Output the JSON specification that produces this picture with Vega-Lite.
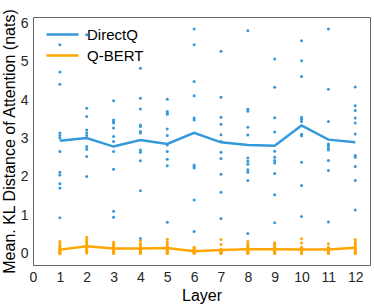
{
  "$schema": "https://vega.github.io/schema/vega-lite/v6.json",
  "width": 337,
  "height": 248,
  "autosize": {"type": "none"},
  "padding": {"left": 33, "top": 17, "right": 4, "bottom": 39},
  "background": "white",
  "config": {
    "font": "Liberation Sans",
    "view": {"stroke": "#666", "strokeWidth": 1},
    "axis": {"domain": false, "ticks": false, "grid": false, "labelFont": "Liberation Sans", "labelFontSize": 14, "labelColor": "#262626", "titleFont": "Liberation Sans", "titleFontSize": 16, "titleFontWeight": "normal", "titleColor": "#000"}
  },
  "datasets": {
    "points": [
      {"layer": 1, "model": "DirectQ", "kl": 5.44}, {"layer": 1, "model": "DirectQ", "kl": 4.73}, {"layer": 1, "model": "DirectQ", "kl": 4.41}, {"layer": 1, "model": "DirectQ", "kl": 3.14}, {"layer": 1, "model": "DirectQ", "kl": 3.08}, {"layer": 1, "model": "DirectQ", "kl": 3.01}, {"layer": 1, "model": "DirectQ", "kl": 2.66}, {"layer": 1, "model": "DirectQ", "kl": 2.12}, {"layer": 1, "model": "DirectQ", "kl": 2.05}, {"layer": 1, "model": "DirectQ", "kl": 1.82}, {"layer": 1, "model": "DirectQ", "kl": 1.71}, {"layer": 1, "model": "DirectQ", "kl": 0.94},
      {"layer": 2, "model": "DirectQ", "kl": 5.70}, {"layer": 2, "model": "DirectQ", "kl": 3.79}, {"layer": 2, "model": "DirectQ", "kl": 3.57}, {"layer": 2, "model": "DirectQ", "kl": 3.22}, {"layer": 2, "model": "DirectQ", "kl": 3.14}, {"layer": 2, "model": "DirectQ", "kl": 3.08}, {"layer": 2, "model": "DirectQ", "kl": 2.79}, {"layer": 2, "model": "DirectQ", "kl": 2.72}, {"layer": 2, "model": "DirectQ", "kl": 2.53}, {"layer": 2, "model": "DirectQ", "kl": 2.01},
      {"layer": 3, "model": "DirectQ", "kl": 3.98}, {"layer": 3, "model": "DirectQ", "kl": 3.48}, {"layer": 3, "model": "DirectQ", "kl": 3.44}, {"layer": 3, "model": "DirectQ", "kl": 3.40}, {"layer": 3, "model": "DirectQ", "kl": 3.27}, {"layer": 3, "model": "DirectQ", "kl": 3.05}, {"layer": 3, "model": "DirectQ", "kl": 2.92}, {"layer": 3, "model": "DirectQ", "kl": 2.66}, {"layer": 3, "model": "DirectQ", "kl": 2.20}, {"layer": 3, "model": "DirectQ", "kl": 1.11}, {"layer": 3, "model": "DirectQ", "kl": 0.95},
      {"layer": 4, "model": "DirectQ", "kl": 4.83}, {"layer": 4, "model": "DirectQ", "kl": 4.05}, {"layer": 4, "model": "DirectQ", "kl": 3.77}, {"layer": 4, "model": "DirectQ", "kl": 3.35}, {"layer": 4, "model": "DirectQ", "kl": 3.31}, {"layer": 4, "model": "DirectQ", "kl": 3.18}, {"layer": 4, "model": "DirectQ", "kl": 3.14}, {"layer": 4, "model": "DirectQ", "kl": 2.70}, {"layer": 4, "model": "DirectQ", "kl": 2.64}, {"layer": 4, "model": "DirectQ", "kl": 2.42}, {"layer": 4, "model": "DirectQ", "kl": 1.64}, {"layer": 4, "model": "DirectQ", "kl": 0.40},
      {"layer": 5, "model": "DirectQ", "kl": 4.02}, {"layer": 5, "model": "DirectQ", "kl": 3.70}, {"layer": 5, "model": "DirectQ", "kl": 3.66}, {"layer": 5, "model": "DirectQ", "kl": 3.63}, {"layer": 5, "model": "DirectQ", "kl": 3.25}, {"layer": 5, "model": "DirectQ", "kl": 3.08}, {"layer": 5, "model": "DirectQ", "kl": 2.83}, {"layer": 5, "model": "DirectQ", "kl": 2.66}, {"layer": 5, "model": "DirectQ", "kl": 2.46}, {"layer": 5, "model": "DirectQ", "kl": 2.29}, {"layer": 5, "model": "DirectQ", "kl": 0.82},
      {"layer": 6, "model": "DirectQ", "kl": 5.85}, {"layer": 6, "model": "DirectQ", "kl": 5.44}, {"layer": 6, "model": "DirectQ", "kl": 4.48}, {"layer": 6, "model": "DirectQ", "kl": 4.11}, {"layer": 6, "model": "DirectQ", "kl": 3.53}, {"layer": 6, "model": "DirectQ", "kl": 3.48}, {"layer": 6, "model": "DirectQ", "kl": 2.31}, {"layer": 6, "model": "DirectQ", "kl": 2.27}, {"layer": 6, "model": "DirectQ", "kl": 2.23}, {"layer": 6, "model": "DirectQ", "kl": 1.40}, {"layer": 6, "model": "DirectQ", "kl": 0.58},
      {"layer": 7, "model": "DirectQ", "kl": 5.27}, {"layer": 7, "model": "DirectQ", "kl": 4.07}, {"layer": 7, "model": "DirectQ", "kl": 3.55}, {"layer": 7, "model": "DirectQ", "kl": 3.37}, {"layer": 7, "model": "DirectQ", "kl": 3.10}, {"layer": 7, "model": "DirectQ", "kl": 2.92}, {"layer": 7, "model": "DirectQ", "kl": 2.64}, {"layer": 7, "model": "DirectQ", "kl": 2.48}, {"layer": 7, "model": "DirectQ", "kl": 2.07}, {"layer": 7, "model": "DirectQ", "kl": 1.60}, {"layer": 7, "model": "DirectQ", "kl": 0.92},
      {"layer": 8, "model": "DirectQ", "kl": 5.80}, {"layer": 8, "model": "DirectQ", "kl": 3.76}, {"layer": 8, "model": "DirectQ", "kl": 3.71}, {"layer": 8, "model": "DirectQ", "kl": 3.29}, {"layer": 8, "model": "DirectQ", "kl": 3.09}, {"layer": 8, "model": "DirectQ", "kl": 2.49}, {"layer": 8, "model": "DirectQ", "kl": 2.41}, {"layer": 8, "model": "DirectQ", "kl": 2.33}, {"layer": 8, "model": "DirectQ", "kl": 2.19}, {"layer": 8, "model": "DirectQ", "kl": 2.12}, {"layer": 8, "model": "DirectQ", "kl": 1.91}, {"layer": 8, "model": "DirectQ", "kl": 0.53},
      {"layer": 9, "model": "DirectQ", "kl": 5.07}, {"layer": 9, "model": "DirectQ", "kl": 4.33}, {"layer": 9, "model": "DirectQ", "kl": 3.54}, {"layer": 9, "model": "DirectQ", "kl": 3.17}, {"layer": 9, "model": "DirectQ", "kl": 2.67}, {"layer": 9, "model": "DirectQ", "kl": 2.51}, {"layer": 9, "model": "DirectQ", "kl": 2.43}, {"layer": 9, "model": "DirectQ", "kl": 2.36}, {"layer": 9, "model": "DirectQ", "kl": 2.09}, {"layer": 9, "model": "DirectQ", "kl": 1.54}, {"layer": 9, "model": "DirectQ", "kl": 0.81},
      {"layer": 10, "model": "DirectQ", "kl": 5.54}, {"layer": 10, "model": "DirectQ", "kl": 5.02}, {"layer": 10, "model": "DirectQ", "kl": 4.61}, {"layer": 10, "model": "DirectQ", "kl": 3.55}, {"layer": 10, "model": "DirectQ", "kl": 3.50}, {"layer": 10, "model": "DirectQ", "kl": 3.44}, {"layer": 10, "model": "DirectQ", "kl": 3.11}, {"layer": 10, "model": "DirectQ", "kl": 3.07}, {"layer": 10, "model": "DirectQ", "kl": 2.38}, {"layer": 10, "model": "DirectQ", "kl": 1.78}, {"layer": 10, "model": "DirectQ", "kl": 0.97},
      {"layer": 11, "model": "DirectQ", "kl": 5.85}, {"layer": 11, "model": "DirectQ", "kl": 4.28}, {"layer": 11, "model": "DirectQ", "kl": 3.44}, {"layer": 11, "model": "DirectQ", "kl": 2.86}, {"layer": 11, "model": "DirectQ", "kl": 2.81}, {"layer": 11, "model": "DirectQ", "kl": 2.75}, {"layer": 11, "model": "DirectQ", "kl": 2.70}, {"layer": 11, "model": "DirectQ", "kl": 2.43}, {"layer": 11, "model": "DirectQ", "kl": 2.17}, {"layer": 11, "model": "DirectQ", "kl": 0.83},
      {"layer": 12, "model": "DirectQ", "kl": 4.34}, {"layer": 12, "model": "DirectQ", "kl": 3.85}, {"layer": 12, "model": "DirectQ", "kl": 3.73}, {"layer": 12, "model": "DirectQ", "kl": 3.53}, {"layer": 12, "model": "DirectQ", "kl": 3.40}, {"layer": 12, "model": "DirectQ", "kl": 3.12}, {"layer": 12, "model": "DirectQ", "kl": 2.56}, {"layer": 12, "model": "DirectQ", "kl": 2.51}, {"layer": 12, "model": "DirectQ", "kl": 2.27}, {"layer": 12, "model": "DirectQ", "kl": 1.91}, {"layer": 12, "model": "DirectQ", "kl": 1.14},
      {"layer": 1, "model": "Q-BERT", "kl": 0.32}, {"layer": 1, "model": "Q-BERT", "kl": 0.27}, {"layer": 1, "model": "Q-BERT", "kl": 0.22}, {"layer": 1, "model": "Q-BERT", "kl": 0.18}, {"layer": 1, "model": "Q-BERT", "kl": 0.15}, {"layer": 1, "model": "Q-BERT", "kl": 0.12}, {"layer": 1, "model": "Q-BERT", "kl": 0.09}, {"layer": 1, "model": "Q-BERT", "kl": 0.07}, {"layer": 1, "model": "Q-BERT", "kl": 0.05}, {"layer": 1, "model": "Q-BERT", "kl": 0.03}, {"layer": 1, "model": "Q-BERT", "kl": 0.02}, {"layer": 1, "model": "Q-BERT", "kl": 0.0},
      {"layer": 2, "model": "Q-BERT", "kl": 0.43}, {"layer": 2, "model": "Q-BERT", "kl": 0.37}, {"layer": 2, "model": "Q-BERT", "kl": 0.32}, {"layer": 2, "model": "Q-BERT", "kl": 0.28}, {"layer": 2, "model": "Q-BERT", "kl": 0.24}, {"layer": 2, "model": "Q-BERT", "kl": 0.20}, {"layer": 2, "model": "Q-BERT", "kl": 0.17}, {"layer": 2, "model": "Q-BERT", "kl": 0.13}, {"layer": 2, "model": "Q-BERT", "kl": 0.10}, {"layer": 2, "model": "Q-BERT", "kl": 0.07}, {"layer": 2, "model": "Q-BERT", "kl": 0.04}, {"layer": 2, "model": "Q-BERT", "kl": 0.02},
      {"layer": 3, "model": "Q-BERT", "kl": 0.30}, {"layer": 3, "model": "Q-BERT", "kl": 0.25}, {"layer": 3, "model": "Q-BERT", "kl": 0.21}, {"layer": 3, "model": "Q-BERT", "kl": 0.18}, {"layer": 3, "model": "Q-BERT", "kl": 0.15}, {"layer": 3, "model": "Q-BERT", "kl": 0.13}, {"layer": 3, "model": "Q-BERT", "kl": 0.10}, {"layer": 3, "model": "Q-BERT", "kl": 0.08}, {"layer": 3, "model": "Q-BERT", "kl": 0.06}, {"layer": 3, "model": "Q-BERT", "kl": 0.04}, {"layer": 3, "model": "Q-BERT", "kl": 0.02}, {"layer": 3, "model": "Q-BERT", "kl": 0.01},
      {"layer": 4, "model": "Q-BERT", "kl": 0.34}, {"layer": 4, "model": "Q-BERT", "kl": 0.27}, {"layer": 4, "model": "Q-BERT", "kl": 0.22}, {"layer": 4, "model": "Q-BERT", "kl": 0.18}, {"layer": 4, "model": "Q-BERT", "kl": 0.15}, {"layer": 4, "model": "Q-BERT", "kl": 0.12}, {"layer": 4, "model": "Q-BERT", "kl": 0.10}, {"layer": 4, "model": "Q-BERT", "kl": 0.08}, {"layer": 4, "model": "Q-BERT", "kl": 0.06}, {"layer": 4, "model": "Q-BERT", "kl": 0.04}, {"layer": 4, "model": "Q-BERT", "kl": 0.02}, {"layer": 4, "model": "Q-BERT", "kl": 0.01},
      {"layer": 5, "model": "Q-BERT", "kl": 0.38}, {"layer": 5, "model": "Q-BERT", "kl": 0.31}, {"layer": 5, "model": "Q-BERT", "kl": 0.25}, {"layer": 5, "model": "Q-BERT", "kl": 0.20}, {"layer": 5, "model": "Q-BERT", "kl": 0.16}, {"layer": 5, "model": "Q-BERT", "kl": 0.13}, {"layer": 5, "model": "Q-BERT", "kl": 0.10}, {"layer": 5, "model": "Q-BERT", "kl": 0.08}, {"layer": 5, "model": "Q-BERT", "kl": 0.06}, {"layer": 5, "model": "Q-BERT", "kl": 0.04}, {"layer": 5, "model": "Q-BERT", "kl": 0.02}, {"layer": 5, "model": "Q-BERT", "kl": 0.01},
      {"layer": 6, "model": "Q-BERT", "kl": 0.17}, {"layer": 6, "model": "Q-BERT", "kl": 0.14}, {"layer": 6, "model": "Q-BERT", "kl": 0.12}, {"layer": 6, "model": "Q-BERT", "kl": 0.10}, {"layer": 6, "model": "Q-BERT", "kl": 0.08}, {"layer": 6, "model": "Q-BERT", "kl": 0.07}, {"layer": 6, "model": "Q-BERT", "kl": 0.06}, {"layer": 6, "model": "Q-BERT", "kl": 0.05}, {"layer": 6, "model": "Q-BERT", "kl": 0.04}, {"layer": 6, "model": "Q-BERT", "kl": 0.03}, {"layer": 6, "model": "Q-BERT", "kl": 0.02}, {"layer": 6, "model": "Q-BERT", "kl": 0.01},
      {"layer": 7, "model": "Q-BERT", "kl": 0.37}, {"layer": 7, "model": "Q-BERT", "kl": 0.24}, {"layer": 7, "model": "Q-BERT", "kl": 0.12}, {"layer": 7, "model": "Q-BERT", "kl": 0.10}, {"layer": 7, "model": "Q-BERT", "kl": 0.09}, {"layer": 7, "model": "Q-BERT", "kl": 0.08}, {"layer": 7, "model": "Q-BERT", "kl": 0.06}, {"layer": 7, "model": "Q-BERT", "kl": 0.05}, {"layer": 7, "model": "Q-BERT", "kl": 0.04}, {"layer": 7, "model": "Q-BERT", "kl": 0.03}, {"layer": 7, "model": "Q-BERT", "kl": 0.02}, {"layer": 7, "model": "Q-BERT", "kl": 0.01},
      {"layer": 8, "model": "Q-BERT", "kl": 0.32}, {"layer": 8, "model": "Q-BERT", "kl": 0.26}, {"layer": 8, "model": "Q-BERT", "kl": 0.21}, {"layer": 8, "model": "Q-BERT", "kl": 0.17}, {"layer": 8, "model": "Q-BERT", "kl": 0.14}, {"layer": 8, "model": "Q-BERT", "kl": 0.11}, {"layer": 8, "model": "Q-BERT", "kl": 0.09}, {"layer": 8, "model": "Q-BERT", "kl": 0.07}, {"layer": 8, "model": "Q-BERT", "kl": 0.05}, {"layer": 8, "model": "Q-BERT", "kl": 0.03}, {"layer": 8, "model": "Q-BERT", "kl": 0.02}, {"layer": 8, "model": "Q-BERT", "kl": 0.01},
      {"layer": 9, "model": "Q-BERT", "kl": 0.29}, {"layer": 9, "model": "Q-BERT", "kl": 0.24}, {"layer": 9, "model": "Q-BERT", "kl": 0.20}, {"layer": 9, "model": "Q-BERT", "kl": 0.17}, {"layer": 9, "model": "Q-BERT", "kl": 0.14}, {"layer": 9, "model": "Q-BERT", "kl": 0.12}, {"layer": 9, "model": "Q-BERT", "kl": 0.10}, {"layer": 9, "model": "Q-BERT", "kl": 0.08}, {"layer": 9, "model": "Q-BERT", "kl": 0.06}, {"layer": 9, "model": "Q-BERT", "kl": 0.04}, {"layer": 9, "model": "Q-BERT", "kl": 0.02}, {"layer": 9, "model": "Q-BERT", "kl": 0.01},
      {"layer": 10, "model": "Q-BERT", "kl": 0.39}, {"layer": 10, "model": "Q-BERT", "kl": 0.28}, {"layer": 10, "model": "Q-BERT", "kl": 0.17}, {"layer": 10, "model": "Q-BERT", "kl": 0.14}, {"layer": 10, "model": "Q-BERT", "kl": 0.12}, {"layer": 10, "model": "Q-BERT", "kl": 0.10}, {"layer": 10, "model": "Q-BERT", "kl": 0.08}, {"layer": 10, "model": "Q-BERT", "kl": 0.06}, {"layer": 10, "model": "Q-BERT", "kl": 0.05}, {"layer": 10, "model": "Q-BERT", "kl": 0.03}, {"layer": 10, "model": "Q-BERT", "kl": 0.02}, {"layer": 10, "model": "Q-BERT", "kl": 0.01},
      {"layer": 11, "model": "Q-BERT", "kl": 0.26}, {"layer": 11, "model": "Q-BERT", "kl": 0.17}, {"layer": 11, "model": "Q-BERT", "kl": 0.15}, {"layer": 11, "model": "Q-BERT", "kl": 0.13}, {"layer": 11, "model": "Q-BERT", "kl": 0.11}, {"layer": 11, "model": "Q-BERT", "kl": 0.09}, {"layer": 11, "model": "Q-BERT", "kl": 0.08}, {"layer": 11, "model": "Q-BERT", "kl": 0.06}, {"layer": 11, "model": "Q-BERT", "kl": 0.05}, {"layer": 11, "model": "Q-BERT", "kl": 0.03}, {"layer": 11, "model": "Q-BERT", "kl": 0.02}, {"layer": 11, "model": "Q-BERT", "kl": 0.01},
      {"layer": 12, "model": "Q-BERT", "kl": 0.37}, {"layer": 12, "model": "Q-BERT", "kl": 0.32}, {"layer": 12, "model": "Q-BERT", "kl": 0.27}, {"layer": 12, "model": "Q-BERT", "kl": 0.23}, {"layer": 12, "model": "Q-BERT", "kl": 0.19}, {"layer": 12, "model": "Q-BERT", "kl": 0.16}, {"layer": 12, "model": "Q-BERT", "kl": 0.13}, {"layer": 12, "model": "Q-BERT", "kl": 0.10}, {"layer": 12, "model": "Q-BERT", "kl": 0.08}, {"layer": 12, "model": "Q-BERT", "kl": 0.05}, {"layer": 12, "model": "Q-BERT", "kl": 0.03}, {"layer": 12, "model": "Q-BERT", "kl": 0.01}
    ],
    "means": [
      {"layer": 1, "model": "DirectQ", "kl": 2.94}, {"layer": 2, "model": "DirectQ", "kl": 3.01}, {"layer": 3, "model": "DirectQ", "kl": 2.79}, {"layer": 4, "model": "DirectQ", "kl": 2.96}, {"layer": 5, "model": "DirectQ", "kl": 2.86}, {"layer": 6, "model": "DirectQ", "kl": 3.15}, {"layer": 7, "model": "DirectQ", "kl": 2.90}, {"layer": 8, "model": "DirectQ", "kl": 2.83}, {"layer": 9, "model": "DirectQ", "kl": 2.81}, {"layer": 10, "model": "DirectQ", "kl": 3.34}, {"layer": 11, "model": "DirectQ", "kl": 2.97}, {"layer": 12, "model": "DirectQ", "kl": 2.90},
      {"layer": 1, "model": "Q-BERT", "kl": 0.11}, {"layer": 2, "model": "Q-BERT", "kl": 0.20}, {"layer": 3, "model": "Q-BERT", "kl": 0.14}, {"layer": 4, "model": "Q-BERT", "kl": 0.14}, {"layer": 5, "model": "Q-BERT", "kl": 0.15}, {"layer": 6, "model": "Q-BERT", "kl": 0.07}, {"layer": 7, "model": "Q-BERT", "kl": 0.10}, {"layer": 8, "model": "Q-BERT", "kl": 0.12}, {"layer": 9, "model": "Q-BERT", "kl": 0.12}, {"layer": 10, "model": "Q-BERT", "kl": 0.11}, {"layer": 11, "model": "Q-BERT", "kl": 0.11}, {"layer": 12, "model": "Q-BERT", "kl": 0.16}
    ]
  },
  "encoding": {
    "x": {"field": "layer", "type": "quantitative", "scale": {"domain": [0, 12.55], "nice": false, "zero": false}, "axis": {"values": [0, 1, 2, 3, 4, 5, 6, 7, 8, 9, 10, 11, 12], "title": "Layer", "labelPadding": 5, "titlePadding": 3, "labelFlush": false}},
    "y": {"field": "kl", "type": "quantitative", "scale": {"domain": [-0.29, 6.16], "nice": false, "zero": false}, "axis": {"values": [0, 1, 2, 3, 4, 5, 6], "title": "Mean. KL Distance of Attention (nats)", "labelPadding": 5, "titlePadding": 3, "labelFlush": false}},
    "color": {"field": "model", "type": "nominal", "title": null, "scale": {"domain": ["DirectQ", "Q-BERT"], "range": ["#3498db", "#ffa500"]}, "legend": {"orient": "none", "legendX": 20, "legendY": 8, "symbolType": "M-2,0H2", "symbolSize": 256, "symbolStrokeWidth": 2.5, "labelFontSize": 15, "labelFont": "Liberation Sans", "labelColor": "#000", "labelOffset": 15, "padding": 0, "rowPadding": 3}}
  },
  "layer": [
    {"data": {"name": "points"}, "mark": {"type": "circle", "size": 9, "opacity": 1}},
    {"data": {"name": "means"}, "mark": {"type": "line", "strokeWidth": 2.5}}
  ]
}
